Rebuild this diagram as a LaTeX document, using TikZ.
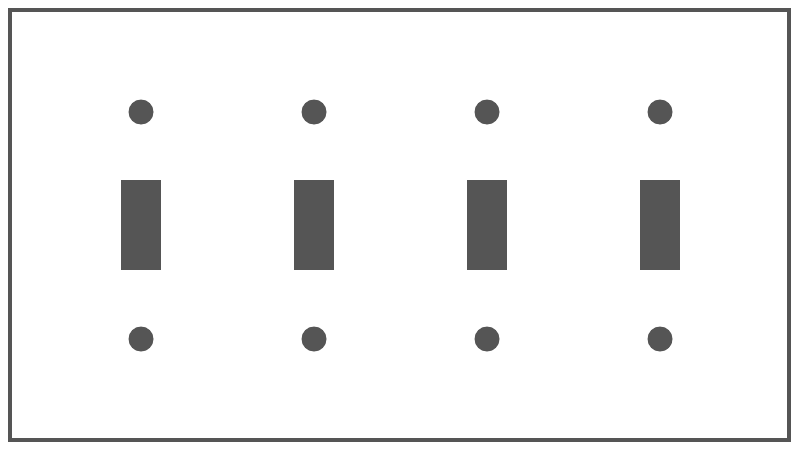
\documentclass[tikz,border=0pt]{standalone}
\usepackage{tikz}
\definecolor{plategray}{RGB}{85,85,85}
\tikzset{every picture/.style={line width=0.75pt}}
\tikzset{screw/.style={fill=plategray,draw=none}, toggle/.style={fill=plategray,draw=none}}

\begin{document}
\begin{tikzpicture}[x=0.75pt,y=0.75pt,yscale=-1,xscale=1]
		\useasboundingbox (0,0) rectangle (800,450);
		
		%Shape: Rectangle [plate]
		\draw  [draw=plategray, line width=3pt] (10,10) -- (789,10) -- (789,440) -- (10,440) -- cycle ;
		
		%Shape: Circle [top screws]
		\path [screw] (141,112) circle (12.5) ;
		\path [screw] (314,112) circle (12.5) ;
		\path [screw] (487,112) circle (12.5) ;
		\path [screw] (660,112) circle (12.5) ;
		
		%Shape: Rectangle [toggles]
		\path [toggle] (121,180) -- (161,180) -- (161,270) -- (121,270) -- cycle ;
		\path [toggle] (294,180) -- (334,180) -- (334,270) -- (294,270) -- cycle ;
		\path [toggle] (467,180) -- (507,180) -- (507,270) -- (467,270) -- cycle ;
		\path [toggle] (640,180) -- (680,180) -- (680,270) -- (640,270) -- cycle ;
		
		%Shape: Circle [bottom screws]
		\path [screw] (141,339) circle (12.5) ;
		\path [screw] (314,339) circle (12.5) ;
		\path [screw] (487,339) circle (12.5) ;
		\path [screw] (660,339) circle (12.5) ;
		
		\end{tikzpicture}
\end{document}
